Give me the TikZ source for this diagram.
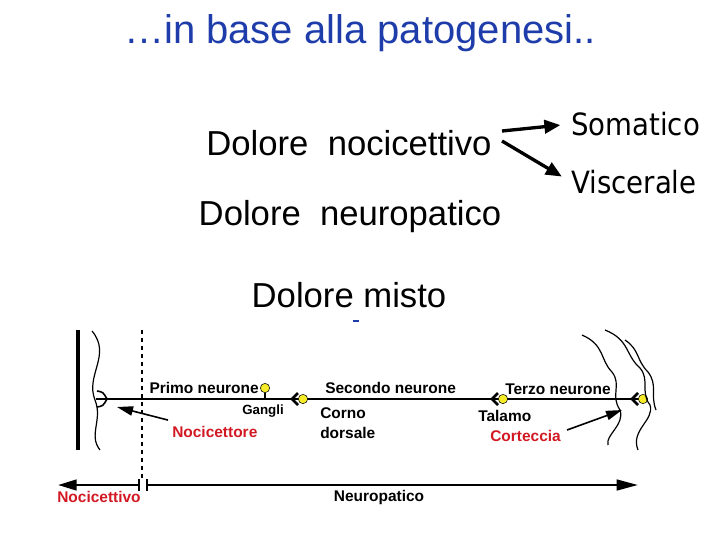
\documentclass[tikz,border=0pt]{standalone}
\usepackage{fontspec}
\setmainfont{Liberation Sans}
\newfontfamily\cond{DejaVu Sans Condensed}
\usetikzlibrary{arrows.meta}
\definecolor{tblue}{RGB}{30,60,170}
\definecolor{lred}{RGB}{210,25,35}
\definecolor{ylw}{RGB}{245,235,40}
\begin{document}
\begin{tikzpicture}[x=0.75pt,y=-0.75pt,
  big/.style={font=\fontsize{26}{30}\selectfont,inner sep=0},
  lab/.style={font=\fontsize{11.6}{14.5}\selectfont\bfseries,inner sep=0},
  soma/.style={line width=2.5pt,shorten >=8pt,-{Triangle[length=12pt,width=10pt]}},
  dot/.style={circle,draw,fill=ylw,minimum size=7pt,inner sep=0},
  wav/.style={line width=0.9pt}]
\useasboundingbox (0,0) rectangle (720,540);
\node[big,text=tblue,font=\fontsize{30}{34}\selectfont] (title) at (360,33) {…in base alla patogenesi..};
\node[big] (noc) at (349,143) {Dolore\ \ nocicettivo};
\node[big] (neu) at (350,217) {Dolore\ \ neuropatico};
\node[big] (mis) at (349,295) {Dolore misto};
\node[big,font=\cond\fontsize{23}{26}\selectfont,anchor=west] (som) at (571,124) {Somatico};
\node[big,font=\cond\fontsize{23}{26}\selectfont,anchor=west] (vis) at (571,182) {Viscerale};
\coordinate (a1) at (502,131);
\coordinate (a2) at (502,141);
\draw[soma] (a1) -- (som.west);
\draw[soma] (a2) -- (vis.west);
\draw[tblue,line width=1pt] (353,321) -- (359,321);
% diagram
\draw[line width=3pt] (78,330) -- (78,450);
\draw[wav] (92,331) .. controls (112,355) and (85,375) .. (95,400) .. controls (103,420) and (88,435) .. (100,450);
\draw[dashed,line width=1.3pt] (142,330) -- (142,478);
\coordinate (recep) at (104,399);
\coordinate (lineend) at (640,399);
\draw[line width=1.8pt] (recep) -- (lineend);
\draw[line width=1.2pt] (97,391) .. controls (103,392) .. (107,399) .. controls (103,406) .. (97,407);
\draw[line width=1.2pt] (96,399) -- (107,399);
\node[dot] (d1) at (265,388) {};
\draw[line width=1pt] (d1) -- (265,399);
\node[lab,anchor=east] (p1) at (259,388) {Primo neurone};
\node[lab,font=\fontsize{10}{12}\selectfont\bfseries] (g) at (263,411) {Gangli};
\foreach \x/\n in {303/d2,503/d3,643/d4}{
  \draw[line width=2pt] (\x-5,393) -- (\x-11,399) -- (\x-5,405);
  \node[dot] (\n) at (\x,399) {};
}
\node[lab,anchor=west] (p2) at (325,388) {Secondo neurone};
\node[lab,anchor=west,align=left] (cd) at (320,423) {Corno\\dorsale};
\node[lab,anchor=west] (p3) at (505,389) {Terzo neurone};
\node[lab,anchor=west] (tal) at (478,416) {Talamo};
\node[lab,anchor=west,text=lred] (cor) at (490,436) {Corteccia};
\coordinate (ctip) at (622,410);
\draw[line width=1.2pt,-{Triangle[length=12pt,width=7pt]}] (cor.east)++(6,-6) -- (ctip);
\node[lab,anchor=west,text=lred] (nc) at (172,432) {Nocicettore};
\coordinate (ntip) at (117,407);
\draw[line width=1.2pt,-{Triangle[length=12pt,width=7pt]}] (nc.north west)++(-4,-6) -- (ntip);
% right waves
\draw[wav] (582,335) .. controls (605,345) and (600,360) .. (612,372) .. controls (622,385) and (610,395) .. (620,410) .. controls (625,425) and (605,435) .. (608,445);
\draw[wav] (605,330) .. controls (630,340) and (625,355) .. (640,368) .. controls (650,380) and (640,392) .. (650,405) .. controls (655,420) and (630,430) .. (638,450);
\draw[wav] (625,340) .. controls (640,350) and (636,360) .. (648,372) .. controls (658,385) and (650,395) .. (656,410);
% bottom
\coordinate (bl) at (58,485);
\coordinate (br) at (638,485);
\coordinate (b1) at (139,485);
\coordinate (b2) at (147,485);
\draw[line width=1.8pt,-{Triangle[length=14pt,width=8pt]}] (b1) -- (bl);
\draw[line width=1.8pt,-{Triangle[length=16pt,width=8pt]}] (b2) -- (br);
\draw[line width=1.5pt] (139,479) -- (139,491) (147,479) -- (147,491);
\node[lab,text=lred] (nv) at (99,497) {Nocicettivo};
\node[lab] (np) at (379,497) {Neuropatico};
\end{tikzpicture}
\end{document}
